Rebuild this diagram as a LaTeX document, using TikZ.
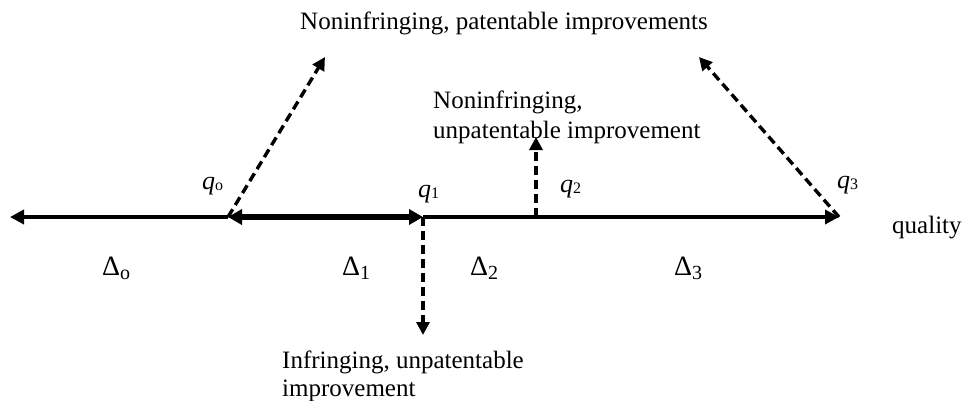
\documentclass[tikz,border=0pt]{standalone}
\usepackage{fontspec}
\setmainfont{Liberation Serif}
\usetikzlibrary{arrows.meta}
\begin{document}
\begin{tikzpicture}[x=1pt,y=-1pt,
  lbl/.style={anchor=base west,inner sep=0pt,font=\fontsize{25}{30}\selectfont},
  dlbl/.style={anchor=base west,inner sep=0pt,font=\fontsize{28}{30}\selectfont},
  qlbl/.style={anchor=base west,inner sep=0pt,font=\fontsize{26}{28}\selectfont},
  axis/.style={line width=3.6pt,-{Triangle[length=14pt,width=14pt]}},
  thickaxis/.style={line width=6.5pt,{Triangle[length=14pt,width=15pt]}-{Triangle[length=14pt,width=15pt]}},
  dasharrow/.style={line width=3.4pt,dash pattern=on 9pt off 5pt,-{Triangle[length=13pt,width=13pt]}}]
\useasboundingbox (0,0) rectangle (962,400);
\coordinate (L) at (10,217);
\coordinate (Q0) at (228,217);
\coordinate (Q1) at (423,217);
\coordinate (Q2) at (536,217);
\coordinate (Q3) at (839,217);
\coordinate (T0) at (325,57);
\coordinate (T3) at (699,57);
\coordinate (T2) at (536,137);
\coordinate (T1) at (423,335);
% main axis
\draw[axis] (Q0) -- (L);
\draw[axis] (Q1) -- (Q3);
\draw[thickaxis] (Q0) -- (Q1);
% dashed arrows
\draw[dasharrow] (Q0) -- (T0);
\draw[dasharrow] (Q3) -- (T3);
\draw[dasharrow] (Q2) -- (T2);
\draw[dasharrow] (Q1) -- (T1);
% labels
\node[lbl] (top) at (300,29) {Noninfringing, patentable improvements};
\node[lbl] (mid1) at (433,108) {Noninfringing,};
\node[lbl] (mid2) at (433,138) {unpatentable improvement};
\node[lbl] (bot1) at (282,368) {Infringing, unpatentable};
\node[lbl] (bot2) at (282,396) {improvement};
\node[lbl] (qual) at (892,233) {quality};
\node[qlbl] (q0) at (202,189) {\textit{q}\raisebox{-1pt}{\fontsize{16}{16}\selectfont o}};
\node[qlbl] (q1) at (418,197) {\textit{q}\raisebox{-1pt}{\fontsize{16}{16}\selectfont 1}};
\node[qlbl] (q2) at (560,192) {\textit{q}\raisebox{-1pt}{\fontsize{16}{16}\selectfont 2}};
\node[qlbl] (q3) at (837,188) {\textit{q}\raisebox{-1pt}{\fontsize{16}{16}\selectfont 3}};
\node[dlbl] (d0) at (102,275) {Δ\raisebox{-4pt}{\fontsize{20}{20}\selectfont o}};
\node[dlbl] (d1) at (342,275) {Δ\raisebox{-4pt}{\fontsize{20}{20}\selectfont 1}};
\node[dlbl] (d2) at (470,275) {Δ\raisebox{-4pt}{\fontsize{20}{20}\selectfont 2}};
\node[dlbl] (d3) at (674,275) {Δ\raisebox{-4pt}{\fontsize{20}{20}\selectfont 3}};
\end{tikzpicture}
\end{document}
